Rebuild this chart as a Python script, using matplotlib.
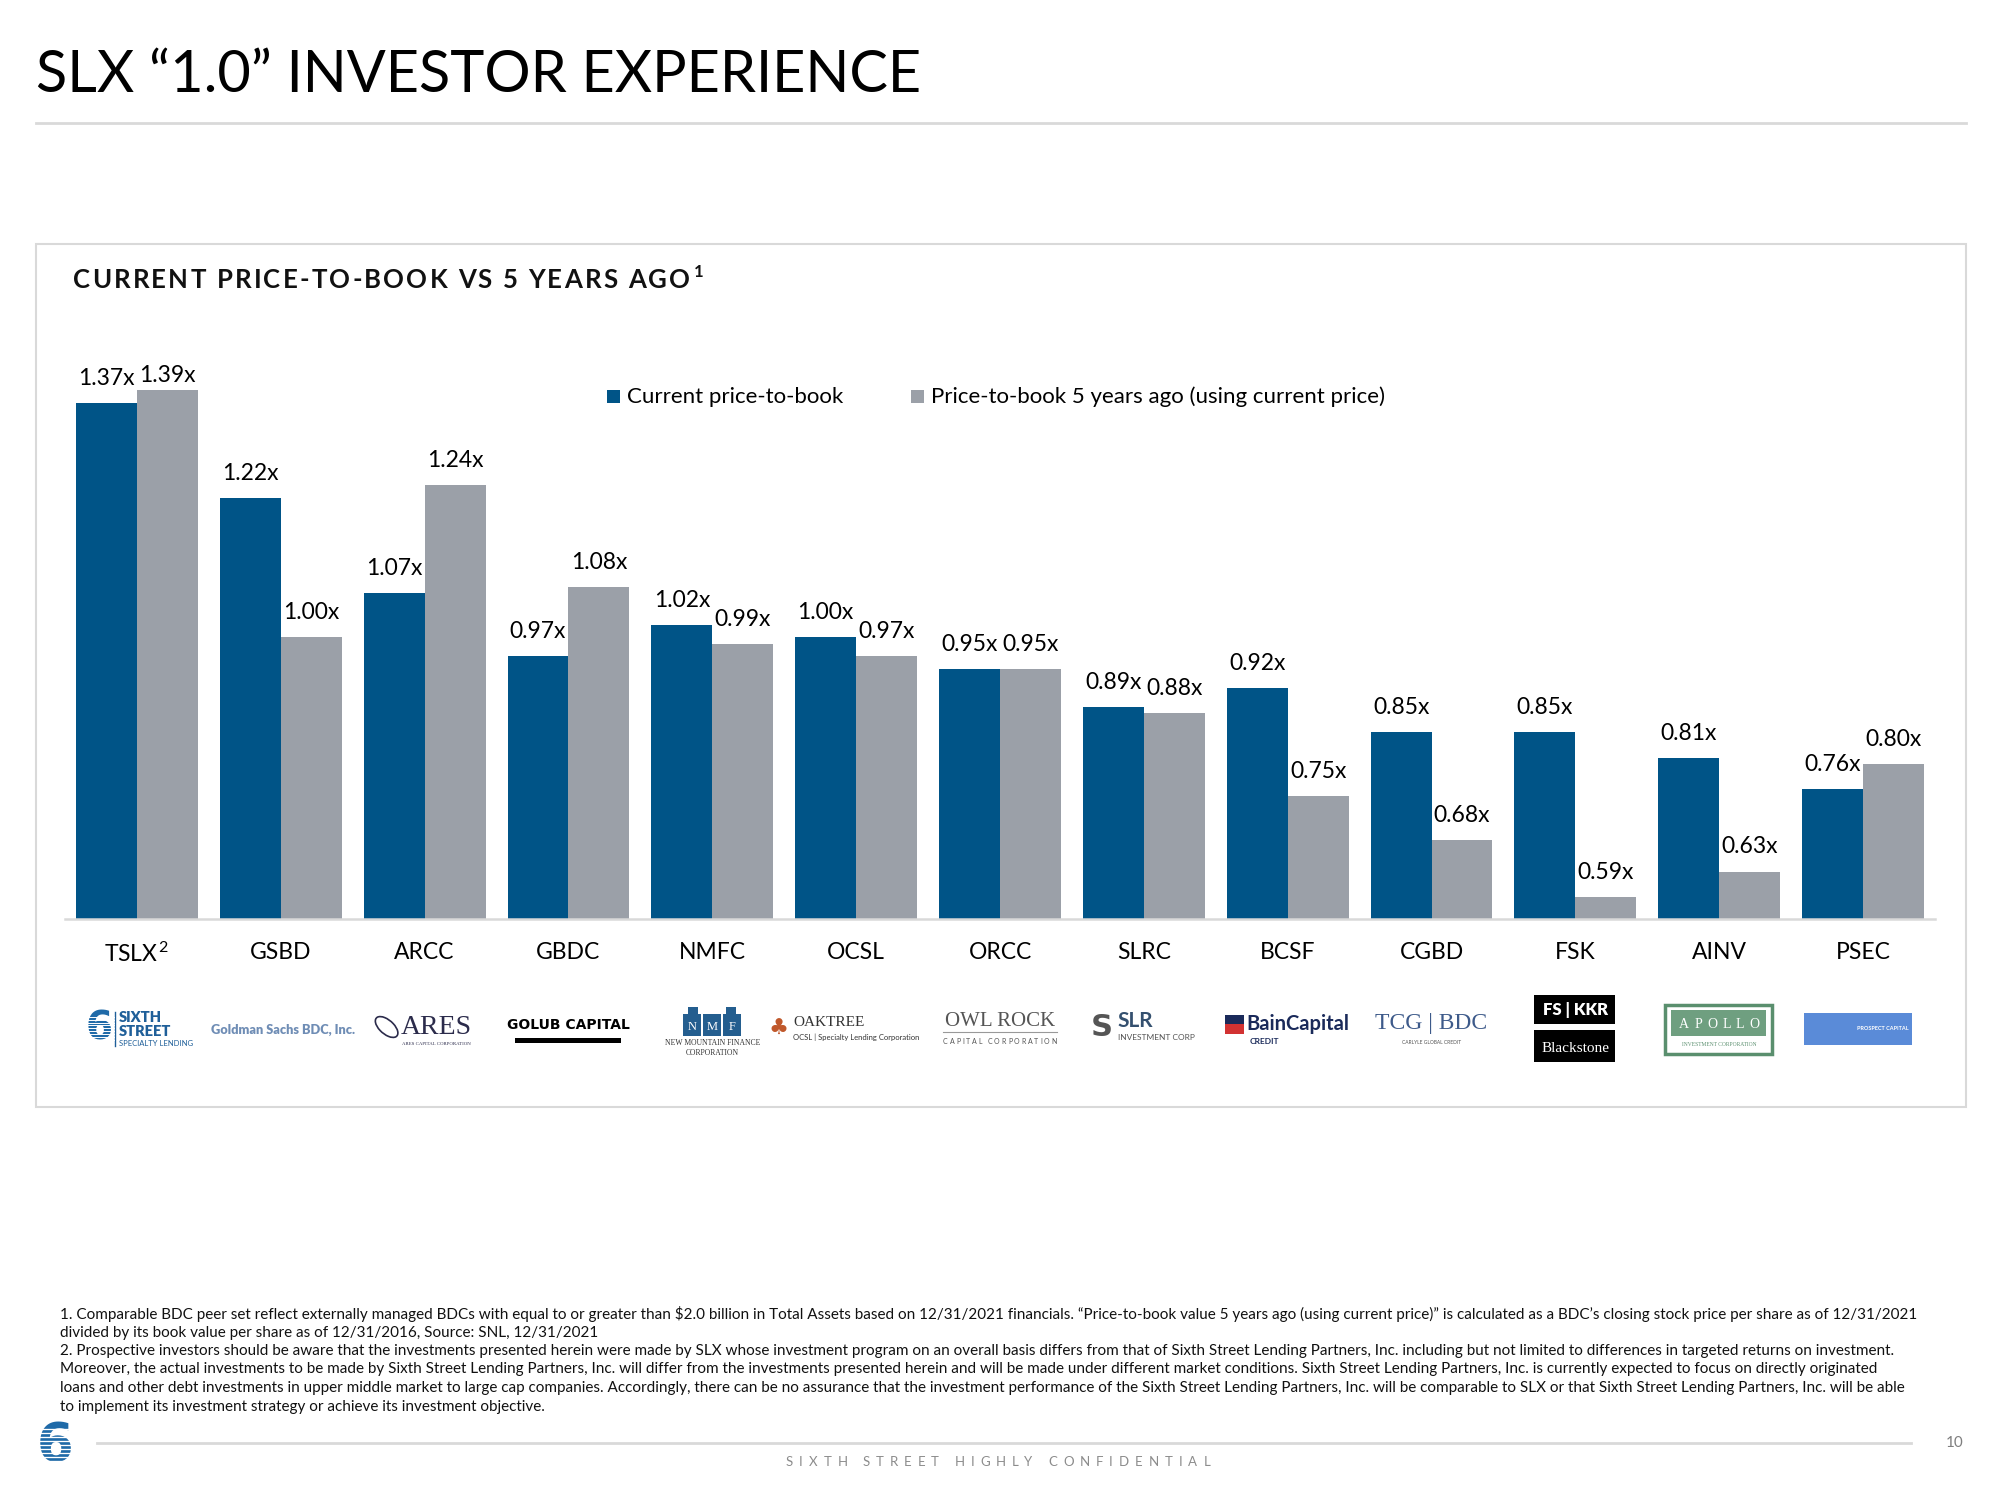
"""SLX "1.0" investor experience — current P/B vs 5 years ago."""
import numpy as np
import matplotlib
matplotlib.use("Agg")
import matplotlib.pyplot as plt
from matplotlib.patches import Rectangle, Ellipse
from matplotlib.lines import Line2D

plt.rcParams["font.family"] = ["Lato", "DejaVu Sans"]
plt.rcParams["mathtext.fontset"] = "custom"
plt.rcParams["mathtext.rm"] = "Lato"
plt.rcParams["mathtext.it"] = "Lato:italic"
plt.rcParams["mathtext.bf"] = "Lato:bold"

# ---- data ----
tickers = ["TSLX", "GSBD", "ARCC", "GBDC", "NMFC", "OCSL", "ORCC",
           "SLRC", "BCSF", "CGBD", "FSK", "AINV", "PSEC"]
current_pb = [1.37, 1.22, 1.07, 0.97, 1.02, 1.00, 0.95, 0.89, 0.92, 0.85, 0.85, 0.81, 0.76]
past_pb = [1.39, 1.00, 1.24, 1.08, 0.99, 0.97, 0.95, 0.88, 0.75, 0.68, 0.59, 0.63, 0.80]
tick_labels = ["TSLX$^{\\,2}$"] + tickers[1:]
legend_labels = ["Current price-to-book", "Price-to-book 5 years ago (using current price)"]

footnotes = [
    "1. Comparable BDC peer set reflect externally managed BDCs with equal to or greater than $2.0 billion in Total Assets based on 12/31/2021 financials. \u201cPrice-to-book value 5 years ago (using current price)\u201d is calculated as a BDC\u2019s closing stock price per share as of 12/31/2021",
    "divided by its book value per share as of 12/31/2016, Source: SNL, 12/31/2021",
    "2. Prospective investors should be aware that the investments presented herein were made by SLX whose investment program on an overall basis differs from that of Sixth Street Lending Partners, Inc. including but not limited to differences in targeted returns on investment.",
    "Moreover, the actual investments to be made by Sixth Street Lending Partners, Inc. will differ from the investments presented herein and will be made under different market conditions. Sixth Street Lending Partners, Inc. is currently expected to focus on directly originated",
    "loans and other debt investments in upper middle market to large cap companies. Accordingly, there can be no assurance that the investment performance of the Sixth Street Lending Partners, Inc. will be comparable to SLX or that Sixth Street Lending Partners, Inc. will be able",
    "to implement its investment strategy or achieve its investment objective.",
]

BLUE = "#005487"
GRAY = "#9BA0A8"
RULE = "#D9D9D9"

W, H = 2000, 1500
fig = plt.figure(figsize=(20, 15), dpi=100)
renderer = fig.canvas.get_renderer()


def fx(x):
    return x / W


def fy(y):
    return 1 - y / H


def ftext(x, y, s, **kw):
    return fig.text(fx(x), fy(y), s, **kw)


def frect(x0, y0, x1, y1, **kw):
    r = Rectangle((fx(x0), fy(y1)), fx(x1) - fx(x0), (y1 - y0) / H,
                  transform=fig.transFigure, **kw)
    fig.add_artist(r)
    return r


def fline(x0, x1, y0, y1, **kw):
    fig.add_artist(Line2D([fx(x0), fx(x1)], [fy(y0), fy(y1)],
                          transform=fig.transFigure, **kw))


def text_w(s, **kw):
    t = fig.text(0, 0, s, **kw)
    w = t.get_window_extent(renderer).width
    t.remove()
    return w


def spaced(x, y, s, width, **kw):
    """Letter-spaced text filling [x, x+width] (pixels)."""
    sp = text_w("a a", **kw) - text_w("aa", **kw)
    widths = [sp if ch == " " else text_w(ch, **kw) for ch in s]
    gap = (width - sum(widths)) / (len(s) - 1)
    cur = x
    for ch, w in zip(s, widths):
        if ch != " ":
            ftext(cur, y, ch, **kw)
        cur += w + gap
    return cur - gap


def striped_six(cx, cy, size, color="#1F6AA8", n=9):
    t = ftext(cx, cy, "6", fontsize=size, fontweight="heavy", color=color,
              ha="center", va="center", family="DejaVu Sans")
    bb = t.get_window_extent(renderer)
    top = H - bb.y1 + 0.18 * (bb.y1 - bb.y0)
    bot = H - bb.y0 - 0.22 * (bb.y1 - bb.y0)
    for yy in np.linspace(top, bot, n):
        fline(bb.x0 - 2, bb.x1 + 2, yy, yy, color="white", lw=size / 40, zorder=5)


# ---- page title ----
ftext(36, 92, "SLX \u201c1.0\u201d INVESTOR EXPERIENCE", fontsize=41.5, va="baseline")
fline(36, 1966, 123, 123, color=RULE, lw=2)

# ---- panel ----
frect(36, 244, 1966, 1107, fill=False, ec=RULE, lw=1.5)
end = spaced(73, 288, "CURRENT PRICE-TO-BOOK VS 5 YEARS AGO", 617,
             fontsize=18.5, fontweight="bold", va="baseline", color="#111111")
ftext(end + 4, 277, "1", fontsize=12, fontweight="bold", va="baseline", color="#111111")

# ---- chart ----
y_lo, y_hi = 0.555, 1.50
ax_left, ax_right, ax_base = 65, 1935, 919
px_per_unit = 633
ax = fig.add_axes([fx(ax_left), fy(ax_base), (ax_right - ax_left) / W,
                   (y_hi - y_lo) * px_per_unit / H])
x = np.arange(len(tickers))
w = 0.4235
ax.bar(x - w / 2, current_pb, w, color=BLUE, zorder=2)
ax.bar(x + w / 2, past_pb, w, color=GRAY, zorder=2)
ax.set_xlim(-0.5, len(tickers) - 0.5)
ax.set_ylim(y_lo, y_hi)
for s in ["top", "left", "right"]:
    ax.spines[s].set_visible(False)
ax.spines["bottom"].set_color(RULE)
ax.spines["bottom"].set_linewidth(1.8)
ax.set_yticks([])
ax.set_xticks(x, tick_labels, fontsize=16.5)
ax.tick_params(axis="x", length=0, pad=16.5)

cap = 1.403
for xs, vals in [(x - w / 2, current_pb), (x + w / 2, past_pb)]:
    for xi, v in zip(xs, vals):
        ax.text(xi, min(v + 0.0285, cap), f"{v:.2f}x", ha="center",
                va="baseline", fontsize=16.5)

# legend
frect(607, 390, 620, 403, color=BLUE, lw=0)
ftext(627, 397, legend_labels[0], fontsize=16, va="center")
frect(911, 390, 924, 403, color=GRAY, lw=0)
ftext(931, 397, legend_labels[1], fontsize=16, va="center")

# ---- logo row (text stand-ins) ----
pitch = (ax_right - ax_left) / len(tickers)
cx = [ax_left + (i + 0.5) * pitch for i in range(len(tickers))]
LY = 1027

# TSLX
striped_six(cx[0] - 38, LY + 2, 28)
fline(cx[0] - 22, cx[0] - 22, 1012, 1046, color="#1F5F99", lw=1)
ftext(cx[0] - 18, 1018, "SIXTH", fontsize=10.5, fontweight="heavy", color="#1F5F99", va="center")
ftext(cx[0] - 18, 1032, "STREET", fontsize=10.5, fontweight="heavy", color="#1F5F99", va="center")
ftext(cx[0] - 18, 1044, "SPECIALTY LENDING", fontsize=5.5, color="#1F5F99", va="center")
# GSBD
ftext(cx[1] + 2, LY + 3, "Goldman Sachs BDC, Inc.", fontsize=9.2, fontweight="heavy",
      color="#6F8DB5", ha="center", va="center")
# ARCC
fig.add_artist(Ellipse((fx(cx[2] - 38), fy(LY)), 16 / W, 24 / H, angle=35,
                       transform=fig.transFigure, fill=False, ec="#2B2B4B", lw=1.2))
ftext(cx[2] + 12, LY, "ARES", fontsize=20, family="Liberation Serif", color="#2B2B4B",
      ha="center", va="center")
ftext(cx[2] + 12, 1044, "ARES CAPITAL CORPORATION", fontsize=3.5, family="Liberation Serif",
      color="#2B2B4B", ha="center", va="center")
# GBDC
ftext(cx[3], 1025, "GOLUB CAPITAL", fontsize=10, fontweight="heavy", ha="center",
      va="center", family="DejaVu Sans")
frect(cx[3] - 53, 1038, cx[3] + 53, 1043, color="black", lw=0)
# NMFC
for k, ch in enumerate("NMF"):
    bx = cx[4] - 29 + k * 20
    frect(bx, 1014, bx + 18, 1036, color="#245E8F", lw=0)
    ftext(bx + 9, 1027, ch, fontsize=9, color="white", ha="center", va="center",
          family="Liberation Serif")
frect(cx[4] - 24, 1007, cx[4] - 14, 1014, color="#245E8F", lw=0)
frect(cx[4] + 14, 1007, cx[4] + 24, 1014, color="#245E8F", lw=0)
ftext(cx[4], 1043, "NEW MOUNTAIN FINANCE", fontsize=5.5, family="Liberation Serif",
      color="#333333", ha="center", va="center")
ftext(cx[4], 1053, "CORPORATION", fontsize=5.5, family="Liberation Serif",
      color="#333333", ha="center", va="center")
# OCSL
ftext(cx[5] - 78, 1029, "\u2663", fontsize=16, color="#C0582B", ha="center",
      va="center", family="DejaVu Sans")
ftext(cx[5] - 63, 1023, "OAKTREE", fontsize=11, family="Liberation Serif",
      color="#333333", va="center")
ftext(cx[5] - 63, 1037, "OCSL | Specialty Lending Corporation", fontsize=5.5,
      color="#333333", va="center")
# ORCC
ftext(cx[6], 1022, "OWL ROCK", fontsize=15, family="Liberation Serif", color="#555555",
      ha="center", va="center")
fline(cx[6] - 57, cx[6] + 57, 1032, 1032, color="#999999", lw=0.8)
spaced(cx[6] - 57, 1041, "CAPITAL CORPORATION", 114, fontsize=5, color="#555555", va="center")
# SLRC
ftext(cx[7] - 42, 1027, "S", fontsize=22, fontweight="heavy", color="#555555",
      ha="center", va="center", family="DejaVu Sans")
ftext(cx[7] - 26, 1021, "SLR", fontsize=15, fontweight="bold", color="#34506F", va="center")
ftext(cx[7] - 26, 1038, "INVESTMENT CORP", fontsize=6, color="#555555", va="center")
# BCSF
frect(cx[8] - 63, 1015, cx[8] - 44, 1024, color="#1A2A5A", lw=0)
frect(cx[8] - 63, 1024, cx[8] - 44, 1034, color="#D23232", lw=0)
ftext(cx[8] - 41, 1024, "BainCapital", fontsize=14.5, fontweight="bold", color="#1A2A5A",
      va="center")
ftext(cx[8] - 38, 1042, "CREDIT", fontsize=6, fontweight="bold", color="#1A2A5A", va="center")
# CGBD
ftext(cx[9], 1024, "TCG | BDC", fontsize=17, family="Liberation Serif", color="#3D5A8A",
      ha="center", va="center")
ftext(cx[9], 1042, "CARLYLE GLOBAL CREDIT", fontsize=3.5, color="#555555",
      ha="center", va="center")
# FSK
frect(cx[10] - 41, 995, cx[10] + 40, 1024, color="black", lw=0)
ftext(cx[10], 1010, "FS | KKR", fontsize=12, fontweight="heavy", color="white",
      ha="center", va="center")
frect(cx[10] - 41, 1030, cx[10] + 40, 1062, color="black", lw=0)
ftext(cx[10], 1048, "Blackstone", fontsize=11, family="Liberation Serif", color="white",
      ha="center", va="center")
# AINV
frect(cx[11] - 54, 1005, cx[11] + 53, 1054, fill=False, ec="#5A8F6E", lw=2.5)
frect(cx[11] - 48, 1010, cx[11] + 47, 1036, color="#6F9F80", lw=0)
spaced(cx[11] - 40, 1024, "APOLLO", 80, fontsize=10, family="Liberation Serif",
       color="white", va="center")
ftext(cx[11], 1045, "INVESTMENT CORPORATION", fontsize=4, family="Liberation Serif",
      color="#5A8F6E", ha="center", va="center")
# PSEC
frect(cx[12] - 59, 1013, cx[12] + 49, 1045, color="#5A8BD8", lw=0)
ftext(cx[12] + 20, 1029, "PROSPECT CAPITAL", fontsize=4, fontweight="bold", color="white",
      ha="center", va="center")

# ---- footnotes ----
fn_size = 10
w0 = text_w(footnotes[0], fontsize=fn_size)
fn_size = fn_size * 1860 / w0
for i, line in enumerate(footnotes):
    ftext(60, 1314 + i * 18.5, line, fontsize=fn_size, va="center", color="#111111")

# ---- page footer ----
striped_six(55, 1446, 38)
fline(97, 1911, 1443, 1443, color=RULE, lw=2)
spaced(786, 1462, "SIXTH STREET HIGHLY CONFIDENTIAL", 424, fontsize=9.5,
       color="#8C8C8C", va="center")
ftext(1955, 1443, "10", fontsize=11, color="#7F7F7F", ha="center", va="center")

fig.savefig("out.png", dpi=100)
